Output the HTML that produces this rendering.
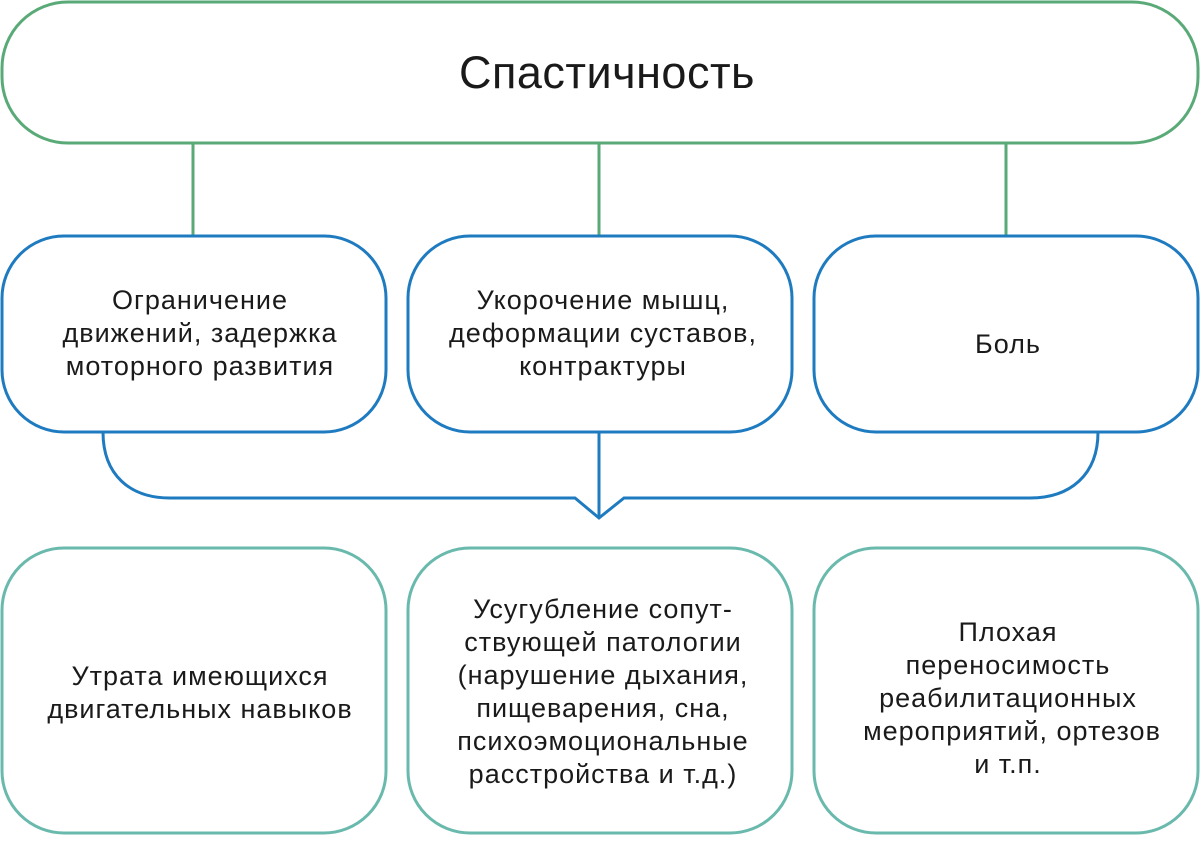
<!DOCTYPE html>
<html><head><meta charset="utf-8"><style>
body{margin:0;background:#fff}
svg text{font-family:"Liberation Sans","DejaVu Sans",sans-serif;fill:#1a1a1a;text-anchor:middle}
</style></head><body>
<svg width="1200" height="836" viewBox="0 0 1200 836" xmlns="http://www.w3.org/2000/svg">
<g fill="none" stroke-width="3">
<rect x="2" y="2" width="1196" height="141" rx="66" stroke="#5aaa78"/>
<path d="M193 143V236M599 143V236M1006 143V236" stroke="#5aaa78"/>
<rect x="2" y="236" width="384" height="196" rx="62" stroke="#1f7bc0"/>
<rect x="408" y="236" width="384" height="196" rx="62" stroke="#1f7bc0"/>
<rect x="814" y="236" width="384" height="196" rx="62" stroke="#1f7bc0"/>
<path d="M103 432C103 475 130 498 170 498H575L599 518L624 498H1030C1070 498 1098 475 1098 432M599 432V518" stroke="#1f7bc0"/>
<rect x="2" y="548" width="384" height="285" rx="62" stroke="#6ab9ad"/>
<rect x="408" y="548" width="384" height="285" rx="62" stroke="#6ab9ad"/>
<rect x="814" y="548" width="384" height="285" rx="62" stroke="#6ab9ad"/>
</g>
<text x="607" y="88" font-size="45" letter-spacing="0.5">Спастичность</text>
<g font-size="27" letter-spacing="1">
<text x="200" y="309">Ограничение</text>
<text x="200" y="342">движений, задержка</text>
<text x="200" y="375">моторного развития</text>
<text x="603" y="309">Укорочение мышц,</text>
<text x="603" y="342">деформации суставов,</text>
<text x="603" y="375">контрактуры</text>
<text x="1008" y="353">Боль</text>
<text x="200" y="685">Утрата имеющихся</text>
<text x="200" y="718">двигательных навыков</text>
<text x="603" y="618">Усугубление сопут-</text>
<text x="603" y="651">ствующей патологии</text>
<text x="603" y="684">(нарушение дыхания,</text>
<text x="603" y="717">пищеварения, сна,</text>
<text x="603" y="750">психоэмоциональные</text>
<text x="603" y="783">расстройства и т.д.)</text>
<text x="1008" y="641">Плохая</text>
<text x="1008" y="674">переносимость</text>
<text x="1008" y="707">реабилитационных</text>
<text x="1012" y="740">мероприятий, ортезов</text>
<text x="1008" y="773">и т.п.</text>
</g>
</svg>
</body></html>
